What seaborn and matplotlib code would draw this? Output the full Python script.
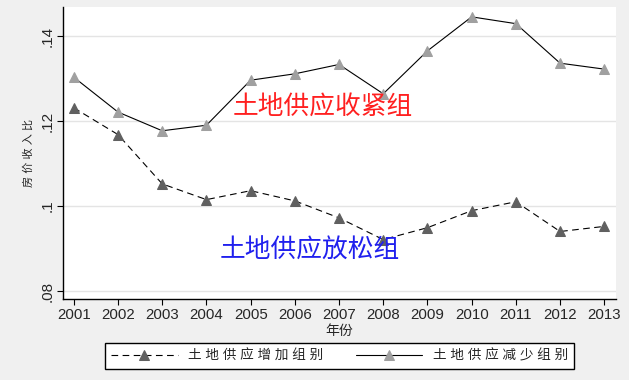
import matplotlib
matplotlib.use("Agg")
import matplotlib.pyplot as plt
import seaborn as sns
import pandas as pd

years = [2001, 2002, 2003, 2004, 2005, 2006, 2007, 2008, 2009, 2010, 2011, 2012, 2013]
increase_group = [0.1231, 0.1168, 0.1052, 0.1015, 0.1036, 0.1012, 0.0972, 0.0921,
                  0.0949, 0.0989, 0.1010, 0.0940, 0.0952]
decrease_group = [0.1303, 0.1221, 0.1177, 0.1190, 0.1296, 0.1311, 0.1333, 0.1264,
                  0.1365, 0.1445, 0.1429, 0.1336, 0.1322]
yticks = [0.08, 0.10, 0.12, 0.14]
ytick_labels = [".08", ".1", ".12", ".14"]
label_inc = "土 地 供 应 增 加 组 别"
label_dec = "土 地 供 应 减 少 组 别"
note_tight = "土地供应收紧组"
note_loose = "土地供应放松组"

sns.set_style("white")
plt.rcParams['font.family'] = ['Liberation Sans', 'Noto Sans CJK SC', 'DejaVu Sans']

fig = plt.figure(figsize=(6.29, 3.80), dpi=100, facecolor="#f0f0f0")
ax = fig.add_axes([0.1008, 0.2124, 0.8782, 0.7684])
ax.set_facecolor("white")

df_inc = pd.DataFrame({"year": years, "v": increase_group})
df_dec = pd.DataFrame({"year": years, "v": decrease_group})

sns.lineplot(data=df_inc, x="year", y="v", ax=ax, color="black", lw=0.8,
             linestyle=(0, (6, 4)), marker="^", markersize=7,
             markerfacecolor="#606060", markeredgecolor="#606060", label=label_inc)
sns.lineplot(data=df_dec, x="year", y="v", ax=ax, color="black", lw=0.8,
             linestyle="-", marker="^", markersize=7,
             markerfacecolor="#a0a0a0", markeredgecolor="#a0a0a0", label=label_dec)

ax.set_xlim(2000.765, 2013.26)
ax.set_ylim(0.07805, 0.14675)
ax.set_xticks(years)
ax.set_xticklabels([str(y) for y in years], fontsize=10.8)
ax.set_yticks(yticks)
ax.set_yticklabels(ytick_labels, fontsize=11, rotation=90, va="center")
ax.grid(axis="y", color="#e4e4e4", lw=1)
ax.grid(axis="x", visible=False)
ax.set_axisbelow(True)

for s in ["top", "right"]:
    ax.spines[s].set_visible(False)
for s in ["left", "bottom"]:
    ax.spines[s].set_color("black")
    ax.spines[s].set_linewidth(1)
ax.tick_params(axis="both", direction="out", length=4.5, width=0.8, color="black",
               left=True, bottom=True, pad=2)

ax.set_xlabel("年份", fontsize=10, labelpad=1)
ax.set_ylabel("房 价 收 入 比", fontsize=8, labelpad=5)

ax.text(2006.64, 0.12306, note_tight, color="#ff2020", fontsize=18.5,
        fontweight="light", ha="center", va="center")
ax.text(2006.33, 0.0894, note_loose, color="#2020ee", fontsize=18.5,
        fontweight="light", ha="center", va="center")

handles, labels = ax.get_legend_handles_labels()
ax.get_legend().remove()
leg = fig.legend(handles, labels, loc="center", bbox_to_anchor=(0.5396, 0.0637),
                 ncol=2, frameon=True, fancybox=False, edgecolor="black",
                 facecolor="white", framealpha=1, fontsize=9.8, handlelength=4.9,
                 handletextpad=0.75, columnspacing=2.4, borderpad=0.45)
leg.get_frame().set_linewidth(1)

fig.savefig("out.png", dpi=100, facecolor=fig.get_facecolor())
